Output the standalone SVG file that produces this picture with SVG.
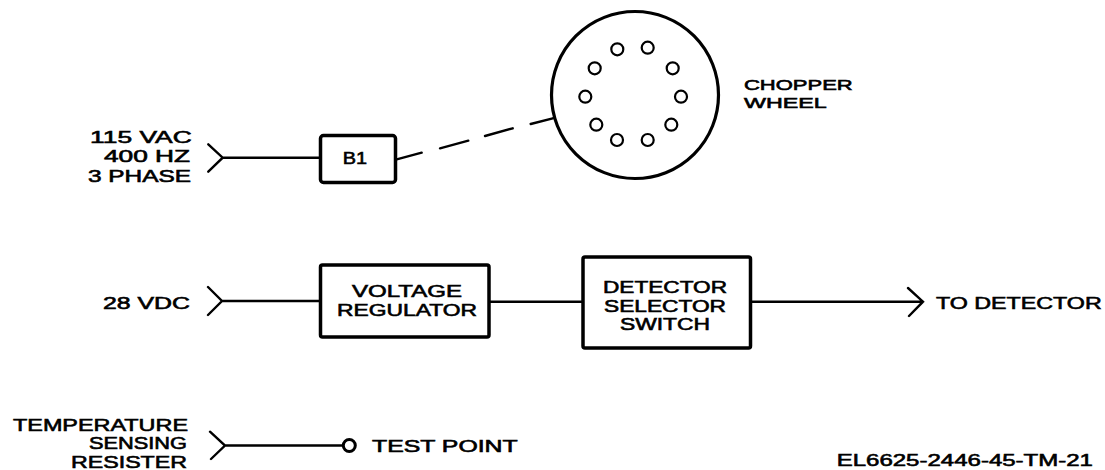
<svg xmlns="http://www.w3.org/2000/svg" width="1105" height="470" viewBox="0 0 1105 470">
<style>
text{font-family:"Liberation Sans",Arial,sans-serif;font-size:17px;font-weight:normal;fill:#000;stroke:#000;stroke-width:.6px}
.tight{font-size:15.3px}
.box{fill:#fff;stroke:#000;stroke-width:3.5;stroke-linejoin:round}
.hole{fill:#fff;stroke:#000;stroke-width:2.2}
.ln{fill:none;stroke:#000;stroke-width:2.4;stroke-linecap:round;stroke-linejoin:miter}
</style>
<rect width="1105" height="470" fill="#fff"/>
<g id="connectors">
<path class="ln" d="M208.3 144.3L222.7 157.7L208.3 171.7M222.7 157.7H320"/>
<path class="ln" d="M396.7 159.3L421.7 152.7M440 148.3L468.3 140.7M485 136L512.7 128.3M530.7 124L552.7 118.3"/>
<path class="ln" d="M208 287L222 301L208 315M222 301H320"/>
<path class="ln" d="M489 301.7H583"/>
<path class="ln" d="M751 301.7H923M908 288L923 301.7L909 316"/>
<path class="ln" d="M210 431.7L225 445.5L211 459M225 445.5H343"/>
</g>
<g id="input-115vac">
<text x="90" y="142.7" textLength="101.7" lengthAdjust="spacingAndGlyphs">115 VAC</text>
<text x="104" y="162" textLength="86" lengthAdjust="spacingAndGlyphs">400 HZ</text>
<text x="88" y="181.7" textLength="103" lengthAdjust="spacingAndGlyphs">3 PHASE</text>
</g>
<g id="b1">
<rect class="box" x="320.5" y="135.5" width="75" height="47" rx="3"/>
<text x="342.7" y="164" textLength="24.3" lengthAdjust="spacingAndGlyphs">B1</text>
</g>
<g id="chopper-wheel">
<circle cx="635" cy="95" r="83.5" fill="#fff" stroke="#000" stroke-width="3.2"/>
<circle class="hole" cx="617.3" cy="49.3" r="6"/>
<circle class="hole" cx="647.7" cy="47.7" r="6"/>
<circle class="hole" cx="672.7" cy="68.3" r="6"/>
<circle class="hole" cx="681" cy="96.7" r="6"/>
<circle class="hole" cx="671.3" cy="124.7" r="6"/>
<circle class="hole" cx="647.7" cy="140" r="6"/>
<circle class="hole" cx="617" cy="140" r="6"/>
<circle class="hole" cx="596.3" cy="124.7" r="6"/>
<circle class="hole" cx="585.3" cy="96.7" r="6"/>
<circle class="hole" cx="594.7" cy="68.3" r="6"/>
<text class="tight" x="744" y="90" textLength="108.7" lengthAdjust="spacingAndGlyphs">CHOPPER</text>
<text class="tight" x="744" y="107.5" textLength="82.7" lengthAdjust="spacingAndGlyphs">WHEEL</text>
</g>
<g id="input-28vdc">
<text x="103" y="309" textLength="87" lengthAdjust="spacingAndGlyphs">28 VDC</text>
</g>
<g id="voltage-regulator">
<rect class="box" x="320.5" y="265" width="168.5" height="72" rx="2"/>
<text x="352" y="296.7" textLength="110" lengthAdjust="spacingAndGlyphs">VOLTAGE</text>
<text x="337" y="315.7" textLength="140" lengthAdjust="spacingAndGlyphs">REGULATOR</text>
</g>
<g id="detector-selector-switch">
<rect class="box" x="583" y="257" width="167.5" height="91" rx="2"/>
<text x="603" y="292.7" textLength="124" lengthAdjust="spacingAndGlyphs">DETECTOR</text>
<text x="604" y="311.7" textLength="122" lengthAdjust="spacingAndGlyphs">SELECTOR</text>
<text x="620" y="330" textLength="90" lengthAdjust="spacingAndGlyphs">SWITCH</text>
</g>
<g id="to-detector">
<text x="936" y="309" textLength="165.7" lengthAdjust="spacingAndGlyphs">TO DETECTOR</text>
</g>
<g id="temperature-sensing-resister">
<text x="13" y="430.7" textLength="175" lengthAdjust="spacingAndGlyphs">TEMPERATURE</text>
<text x="89" y="449" textLength="98" lengthAdjust="spacingAndGlyphs">SENSING</text>
<text x="71" y="468" textLength="116" lengthAdjust="spacingAndGlyphs">RESISTER</text>
</g>
<g id="test-point">
<circle cx="349.3" cy="445.5" r="6" fill="#fff" stroke="#000" stroke-width="3"/>
<text x="372" y="451.7" textLength="145.7" lengthAdjust="spacingAndGlyphs">TEST POINT</text>
</g>
<g id="figure-ref">
<text x="836.7" y="466" textLength="256.3" lengthAdjust="spacingAndGlyphs">EL6625-2446-45-TM-21</text>
</g>
</svg>
